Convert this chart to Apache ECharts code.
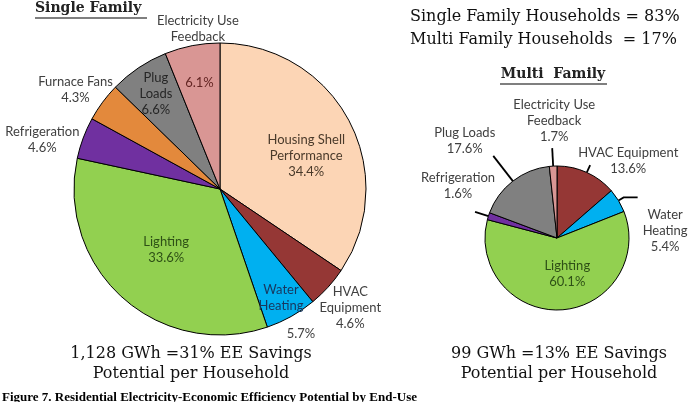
<!DOCTYPE html>
<html>
<head>
<meta charset="utf-8">
<script src="https://cdn.jsdelivr.net/npm/echarts@6/dist/echarts.min.js"></script>
<style>
html, body { margin: 0; padding: 0; background: #fff; }
#chart { width: 698px; height: 402px; }
</style>
</head>
<body>
<div id="chart"></div>
<script>
// single family end-use shares (%), clockwise from 12 o'clock
var sfNames = ['Housing Shell Performance', 'HVAC Equipment', 'Water Heating', 'Lighting',
               'Refrigeration', 'Furnace Fans', 'Plug Loads', 'Electricity Use Feedback'];
var sfValues = [34.4, 4.6, 5.7, 33.6, 4.6, 4.3, 6.6, 6.1];

// multi family end-use shares (%)
var mfNames = ['HVAC Equipment', 'Water Heating', 'Lighting', 'Refrigeration', 'Plug Loads', 'Electricity Use Feedback'];
var mfValues = [13.6, 5.4, 60.1, 1.6, 17.6, 1.7];

var householdNames = ['Single Family Households', 'Multi Family Households'];
var householdShares = [83, 17];
var savingsGWh = ['1,128', '99'];
var savingsPct = [31, 13];

var sliceColors = {
  'Housing Shell Performance': '#fcd5b5',
  'HVAC Equipment': '#953735',
  'Water Heating': '#00b0f0',
  'Lighting': '#92d050',
  'Refrigeration': '#7030a0',
  'Furnace Fans': '#e3893c',
  'Plug Loads': '#808080',
  'Electricity Use Feedback': '#d99694'
};

var sfBreaks = {
  'Housing Shell Performance': 'Housing Shell\nPerformance',
  'HVAC Equipment': 'HVAC\nEquipment',
  'Water Heating': 'Water\nHeating',
  'Plug Loads': 'Plug\nLoads',
  'Electricity Use Feedback': 'Electricity Use\nFeedback'
};
var mfBreaks = {
  'Water Heating': 'Water\nHeating',
  'Electricity Use Feedback': 'Electricity Use\nFeedback'
};

var SF_CENTER = [220, 189], SF_R = 146;
var MF_CENTER = [557, 238], MF_R = 72;
var LABEL_FONT = 'Lato';
var SERIF = 'DejaVu Serif';

function pct(v) { return v.toFixed(1) + '%'; }

function sliceData(names, values) {
  return names.map(function (n, i) {
    return { name: n, value: values[i], itemStyle: { color: sliceColors[n] } };
  });
}

// transparent thin ring, only used to carry one centred label at a given radius
function labelRing(center, spot, names, values, breaks) {
  var idx = spot[0], rad = spot[1], part = spot[2];
  return {
    type: 'pie', center: center, radius: [rad - 4, rad - 2], startAngle: 90,
    silent: true, animation: false,
    itemStyle: { color: 'rgba(0,0,0,0)', borderWidth: 0 },
    labelLine: { show: false },
    label: {
      show: true, position: 'inside', overflow: 'none',
      fontFamily: LABEL_FONT, fontSize: 13, lineHeight: 16, color: spot[3],
      formatter: function (p) {
        if (p.dataIndex !== idx) return '';
        var nm = breaks[p.name] || p.name;
        if (part === 'name') return nm;
        if (part === 'value') return pct(p.value);
        return nm + '\n' + pct(p.value);
      }
    },
    labelLayout: function (p) {
      if (p.dataIndex !== idx) return {};
      return { dx: spot[4] || 0, dy: spot[5] || 0 };
    },
    data: names.map(function (n, i) { return { name: n, value: values[i] }; })
  };
}

// [slice index, label radius, part, colour, nudge x, nudge y]
var sfSpots = [
  [0, 92, 'full', '#4a3a2a', 5, 10],
  [1, 176, 'full', '#404040'],
  [2, 125, 'name', '#17375e'],
  [2, 166, 'value', '#404040'],
  [3, 81, 'full', '#2e5016'],
  [4, 196, 'full', '#404040', 6, 19],
  [5, 176, 'full', '#404040', -3, 5],
  [6, 115, 'full', '#262626'],
  [7, 108, 'value', '#632523'],
  [7, 163, 'name', '#404040', 9, 0]
];

// outside label settings for the multi family pie
var mfLabelStyle = {
  'HVAC Equipment': { len: 8, len2: 0, align: 'left', va: 'bottom', dx: -14, dy: 12 },
  'Water Heating': { len: 6, len2: 14, align: 'left', va: 'top', dx: 3, dy: 9 },
  'Refrigeration': { len: 14, len2: 0, align: 'right', va: 'bottom', dx: 22, dy: -10 },
  'Plug Loads': { len: 32, len2: 0, align: 'right', va: 'bottom', dx: 4, dy: 1 },
  'Electricity Use Feedback': { len: 18, len2: 0, align: 'center', va: 'bottom', dx: 4, dy: -3 }
};

var chart = echarts.init(document.getElementById('chart'));

var series = [];
series.push({
  type: 'pie', center: SF_CENTER, radius: SF_R, startAngle: 90,
  silent: true, animation: false,
  itemStyle: { borderColor: '#000', borderWidth: 1 },
  label: { show: false }, labelLine: { show: false },
  data: sliceData(sfNames, sfValues)
});
sfSpots.forEach(function (s) {
  series.push(labelRing(SF_CENTER, s, sfNames, sfValues, sfBreaks));
});

var mfData = sliceData(mfNames, mfValues).map(function (d) {
  var st = mfLabelStyle[d.name];
  if (!st) {
    d.label = { show: false };
    d.labelLine = { show: false };
  } else {
    d.labelLine = { show: true, length: st.len, length2: st.len2 };
  }
  return d;
});
series.push({
  type: 'pie', center: MF_CENTER, radius: MF_R, startAngle: 90,
  silent: true, animation: false, avoidLabelOverlap: false,
  itemStyle: { borderColor: '#000', borderWidth: 1 },
  label: {
    show: true, position: 'outside', overflow: 'none', distanceToLabelLine: 2,
    fontFamily: LABEL_FONT, fontSize: 13, lineHeight: 16, color: '#404040',
    formatter: function (p) {
      var nm = mfBreaks[p.name] || p.name;
      return (nm + '\n' + pct(p.value)).split('\n').map(function (t) { return '{c|' + t + '}'; }).join('\n');
    },
    rich: { c: { align: 'center', fontFamily: LABEL_FONT, fontSize: 13, lineHeight: 16, color: '#404040' } }
  },
  labelLine: { lineStyle: { color: '#000', width: 1.8 } },
  labelLayout: function (p) {
    var st = mfLabelStyle[mfNames[p.dataIndex]];
    if (!st) return {};
    return { align: st.align, verticalAlign: st.va, dx: st.dx, dy: st.dy };
  },
  data: mfData
});
series.push(labelRing(MF_CENTER, [2, 38, 'full', '#2e5016', 8, -2], mfNames, mfValues, mfBreaks));

chart.setOption({
  animation: false,
  series: series,
  graphic: [
    { type: 'text', x: 35, y: 1, style: { text: 'Single Family', fontFamily: SERIF, fontWeight: 'bold', fontSize: 14, fill: '#222' } },
    { type: 'line', shape: { x1: 35, y1: 18, x2: 147, y2: 18 }, style: { stroke: '#555', lineWidth: 1.5 } },
    { type: 'text', x: 410, y: 5, style: {
        text: householdNames[0] + ' = ' + householdShares[0] + '%\n' + householdNames[1] + '  = ' + householdShares[1] + '%',
        fontFamily: SERIF, fontSize: 16, lineHeight: 23, fill: '#111' } },
    { type: 'text', x: 553, y: 67, style: { text: 'Multi  Family', fontFamily: SERIF, fontWeight: 'bold', fontSize: 14, fill: '#222', align: 'center' } },
    { type: 'line', shape: { x1: 500, y1: 84, x2: 607, y2: 84 }, style: { stroke: '#555', lineWidth: 1.5 } },
    { type: 'text', x: 191, y: 344, style: {
        text: savingsGWh[0] + ' GWh =' + savingsPct[0] + '% EE Savings\nPotential per Household',
        fontFamily: SERIF, fontSize: 16, lineHeight: 20, fill: '#111', align: 'center' } },
    { type: 'text', x: 559, y: 344, style: {
        text: savingsGWh[1] + ' GWh =' + savingsPct[1] + '% EE Savings\nPotential per Household',
        fontFamily: SERIF, fontSize: 16, lineHeight: 20, fill: '#111', align: 'center' } },
    { type: 'text', x: 2, y: 391, style: {
        text: 'Figure 7. Residential Electricity-Economic Efficiency Potential by End-Use',
        fontFamily: 'Liberation Serif', fontWeight: 'bold', fontSize: 13, fill: '#000' } }
  ]
});
</script>
</body>
</html>
